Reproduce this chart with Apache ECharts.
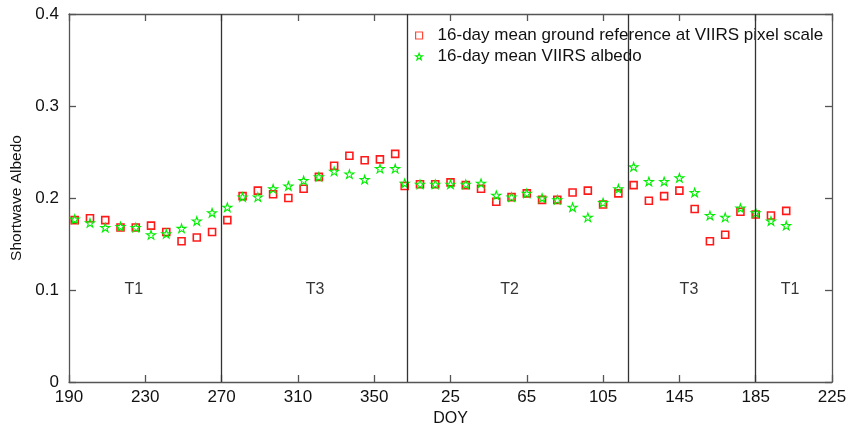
<!DOCTYPE html>
<html>
<head>
<meta charset="utf-8">
<script src="https://cdn.jsdelivr.net/npm/echarts@6/dist/echarts.min.js"></script>
<style>
html,body{margin:0;padding:0;background:#fff;}
#chart{width:850px;height:425px;}
</style>
</head>
<body>
<div id="chart"></div>
<script>
// Day of year of each 16-day mean (8-day step), first season then the following year
const doy = [193,201,209,217,225,233,241,249,257,265,273,281,289,297,305,313,321,329,337,345,353,361,
             1,9,17,25,33,41,49,57,65,73,81,89,97,105,113,121,129,137,145,153,161,169,177,185,193,201];
const groundRef = [0.176,0.178,0.176,0.168,0.168,0.170,0.163,0.153,0.157,0.163,0.176,
                   0.202,0.208,0.204,0.200,0.210,0.223,0.235,0.246,0.241,0.242,0.248,
                   0.213,0.215,0.215,0.217,0.214,0.210,0.196,0.201,0.205,0.198,0.198,0.206,0.208,0.193,0.205,
                   0.214,0.197,0.202,0.208,0.188,0.153,0.160,0.185,0.182,0.181,0.186];
const viirs = [0.177,0.173,0.168,0.169,0.168,0.160,0.161,0.167,0.175,0.184,0.190,
               0.201,0.201,0.210,0.213,0.219,0.223,0.229,0.226,0.220,0.232,0.232,
               0.216,0.215,0.215,0.215,0.215,0.216,0.203,0.201,0.205,0.200,0.198,0.190,0.179,0.195,0.210,
               0.234,0.218,0.218,0.222,0.206,0.181,0.179,0.189,0.184,0.175,0.170];
// Season boundaries (continuous day axis: second year = DOY + 365)
const boundaries = [270, 367.5, 483, 550];
const regionNames = ['T1','T3','T2','T3','T1'];
const regionX = [224, 319, 421, 515, 568];
const regionY = [0.1, 0.1, 0.1, 0.1, 0.1];
const seriesNames = ['16-day mean ground reference at VIIRS pixel scale','16-day mean VIIRS albedo'];

// continuous x positions
const xPos = [];
let offset = 0;
for (let i = 0; i < doy.length; i++) {
  if (i > 0 && doy[i] < doy[i-1]) offset = 365;
  xPos.push(doy[i] + offset);
}
const starPath = 'path://M0,-1L0.2245,-0.309L0.951,-0.309L0.363,0.118L0.588,0.809L0,0.382L-0.588,0.809L-0.363,0.118L-0.951,-0.309L-0.2245,-0.309Z';

const font = 'Liberation Sans, Arial, sans-serif';
const axisLineStyle = {color:'#555', width:1.3};
const chart = echarts.init(document.getElementById('chart'), null, {renderer:'canvas'});
chart.setOption({
  animation:false,
  backgroundColor:'#fff',
  textStyle:{fontFamily:font},
  grid:{left:69, right:18, top:14, bottom:43, containLabel:false, outerBoundsMode:'none'},
  legend:{
    data:[
      {name:seriesNames[0], icon:'rect',
       itemStyle:{color:'rgba(255,0,0,0)', borderColor:'#ff4a3a', borderWidth:1.2}},
      {name:seriesNames[1], icon:starPath,
       itemStyle:{color:'rgba(0,255,0,0)', borderColor:'#00ee00', borderWidth:1.1}}
    ],
    orient:'vertical',
    left:410, top:22,
    itemWidth:7, itemHeight:7, itemGap:4,
    textStyle:{fontSize:17, color:'#111', fontFamily:font, padding:[0,0,0,10]},
    selectedMode:false
  },
  xAxis:[{
    type:'value', min:190, max:590, interval:40, position:'bottom',
    name:'DOY', nameLocation:'middle', nameGap:25,
    nameTextStyle:{fontSize:16, color:'#111', fontFamily:font},
    axisLine:{show:true, onZero:false, lineStyle:axisLineStyle},
    axisTick:{show:true, inside:true, length:7, lineStyle:axisLineStyle},
    axisLabel:{fontSize:17, color:'#111', margin:7, fontFamily:font,
      formatter:function(v){ return String(v > 365 ? v - 365 : v); }},
    splitLine:{show:false}
  },{
    type:'value', min:190, max:590, interval:40, position:'top',
    axisLine:{show:true, onZero:false, lineStyle:axisLineStyle},
    axisTick:{show:true, inside:true, length:7, lineStyle:axisLineStyle},
    axisLabel:{show:false}, splitLine:{show:false}
  }],
  yAxis:[{
    type:'value', min:0, max:0.4, interval:0.1, position:'left',
    name:'Shortwave Albedo', nameLocation:'middle', nameGap:35,
    nameTextStyle:{fontSize:15.5, color:'#111', fontFamily:font},
    axisLine:{show:true, onZero:false, lineStyle:axisLineStyle},
    axisTick:{show:true, inside:true, length:7, lineStyle:axisLineStyle},
    axisLabel:{fontSize:17, color:'#111', margin:10, fontFamily:font,
      formatter:function(v){ return String(Math.round(v*10)/10); }},
    splitLine:{show:false}
  },{
    type:'value', min:0, max:0.4, interval:0.1, position:'right',
    axisLine:{show:true, onZero:false, lineStyle:axisLineStyle},
    axisTick:{show:true, inside:true, length:7, lineStyle:axisLineStyle},
    axisLabel:{show:false}, splitLine:{show:false}
  }],
  series:[
    {
      name:'boundaries', type:'scatter', data:[], silent:true,
      markLine:{
        silent:true, symbol:['none','none'], animation:false,
        label:{show:false},
        lineStyle:{color:'#333', width:1.3, type:'solid'},
        data:boundaries.map(function(b){ return {xAxis:b}; })
      }
    },
    {
      name:seriesNames[0], type:'scatter', xAxisIndex:0, yAxisIndex:0,
      symbol:'rect', symbolSize:7,
      itemStyle:{color:'rgba(255,0,0,0)', borderColor:'#ff1a1a', borderWidth:1.6, opacity:1},
      data:xPos.map(function(x,i){ return [x, groundRef[i]]; }),
      z:3
    },
    {
      name:seriesNames[1], type:'scatter', xAxisIndex:0, yAxisIndex:0,
      symbol:starPath, symbolSize:9, symbolKeepAspect:true,
      itemStyle:{color:'rgba(0,255,0,0)', borderColor:'#00ee00', borderWidth:1.1, opacity:1},
      data:xPos.map(function(x,i){ return [x, viirs[i]]; }),
      z:4
    },
    {
      name:'regions', type:'scatter', silent:true, symbolSize:1,
      itemStyle:{color:'rgba(0,0,0,0)'},
      label:{show:true, position:'inside', fontSize:16, color:'#000', fontFamily:font,
        textBorderWidth:0, formatter:function(p){ return p.name; }},
      data:regionX.map(function(x,i){ return {name:regionNames[i], value:[x, regionY[i]]}; })
    }
  ]
});
</script>
</body>
</html>
